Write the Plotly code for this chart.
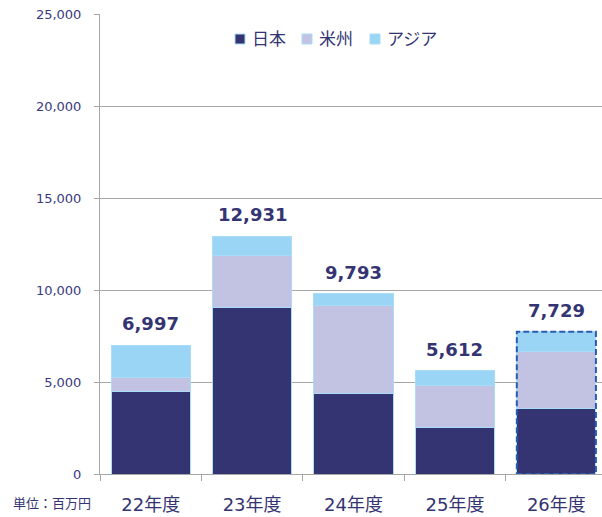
import plotly.graph_objects as go

categories = ["22年度", "23年度", "24年度", "25年度", "26年度"]
japan = [4500, 9050, 4380, 2540, 3570]
americas = [750, 2850, 4770, 2260, 3080]
asia = [1747, 1031, 643, 812, 1079]
totals = [6997, 12931, 9793, 5612, 7729]
total_labels = ["6,997", "12,931", "9,793", "5,612", "7,729"]
series_names = ["日本", "米州", "アジア"]
y_ticks = [0, 5000, 10000, 15000, 20000, 25000]
y_tick_labels = ["0", "5,000", "10,000", "15,000", "20,000", "25,000"]

colors = ["#343472", "#C2C2E2", "#9AD5F5"]
text_color = "#343472"
font_family = "DejaVu Sans, Noto Sans CJK JP, sans-serif"
bar_width = 0.78

W, H = 602, 517
ML, MR, MT, MB = 100, 0, 14, 43
PW, PH = W - ML - MR, H - MT - MB


def px_x(x):
    return (x - ML) / PW


def px_y(y):
    return (H - MB - y) / PH


fig = go.Figure()
for name, vals, col in zip(series_names, [japan, americas, asia], colors):
    fig.add_trace(go.Bar(
        x=categories, y=vals, name=name, width=bar_width,
        marker=dict(color=col, line=dict(color="#A8DCF8", width=1)),
        hoverinfo="skip", showlegend=False,
    ))

for cat, tot, lab in zip(categories, totals, total_labels):
    fig.add_annotation(x=cat, y=tot, text=lab, showarrow=False,
                       yanchor="bottom", yshift=9,
                       font=dict(size=18, color=text_color, family=font_family, weight="bold"))

# dashed outline around the last (forecast) bar
last = len(categories) - 1
fig.add_shape(type="rect", xref="x", yref="y",
              x0=last - bar_width / 2, x1=last + bar_width / 2,
              y0=0, y1=totals[last],
              line=dict(color="#2A5BB0", width=2, dash="6px,3px"),
              fillcolor="rgba(0,0,0,0)", layer="above")

# legend (manual, to match spacing)
legend_sq_x = [235, 302, 370]
for name, col, sx in zip(series_names, colors, legend_sq_x):
    fig.add_shape(type="rect", xref="paper", yref="paper",
                  x0=px_x(sx), x1=px_x(sx + 10), y0=px_y(44), y1=px_y(34),
                  fillcolor=col, line=dict(color="#A8DCF8", width=1))
    fig.add_annotation(xref="paper", yref="paper", x=px_x(sx + 15), y=px_y(39),
                       xanchor="left", yanchor="middle", text=name, showarrow=False,
                       font=dict(size=17, color=text_color, family=font_family))

fig.add_annotation(xref="paper", yref="paper", x=px_x(93), y=px_y(503),
                   xanchor="right", yanchor="middle", text="単位：百万円", showarrow=False,
                   font=dict(size=13, color=text_color, family=font_family))

fig.update_layout(
    barmode="stack",
    width=W, height=H,
    margin=dict(l=ML, r=MR, t=MT, b=MB),
    paper_bgcolor="white", plot_bgcolor="white",
    font=dict(family=font_family, color=text_color),
    showlegend=False,
    xaxis=dict(range=[-0.5, 4.45], showgrid=False, showline=True,
               linecolor="#A6A6A6", linewidth=1, ticks="outside",
               tickson="boundaries", ticklen=6, tickcolor="#A6A6A6",
               ticklabelstandoff=14,
               tickfont=dict(size=18, color=text_color, family=font_family)),
    yaxis=dict(range=[0, 25000], tickvals=y_ticks, ticktext=y_tick_labels,
               showgrid=True, gridcolor="#A6A6A6", gridwidth=1,
               showline=True, linecolor="#A6A6A6", linewidth=1,
               ticks="outside", ticklen=5, tickcolor="#A6A6A6",
               ticklabelstandoff=10,
               tickfont=dict(size=13, color="#3A3A80", family=font_family),
               zeroline=False),
)

fig.write_html("out.html", config={"displayModeBar": False},
               post_script="document.body.style.margin='0px';")
